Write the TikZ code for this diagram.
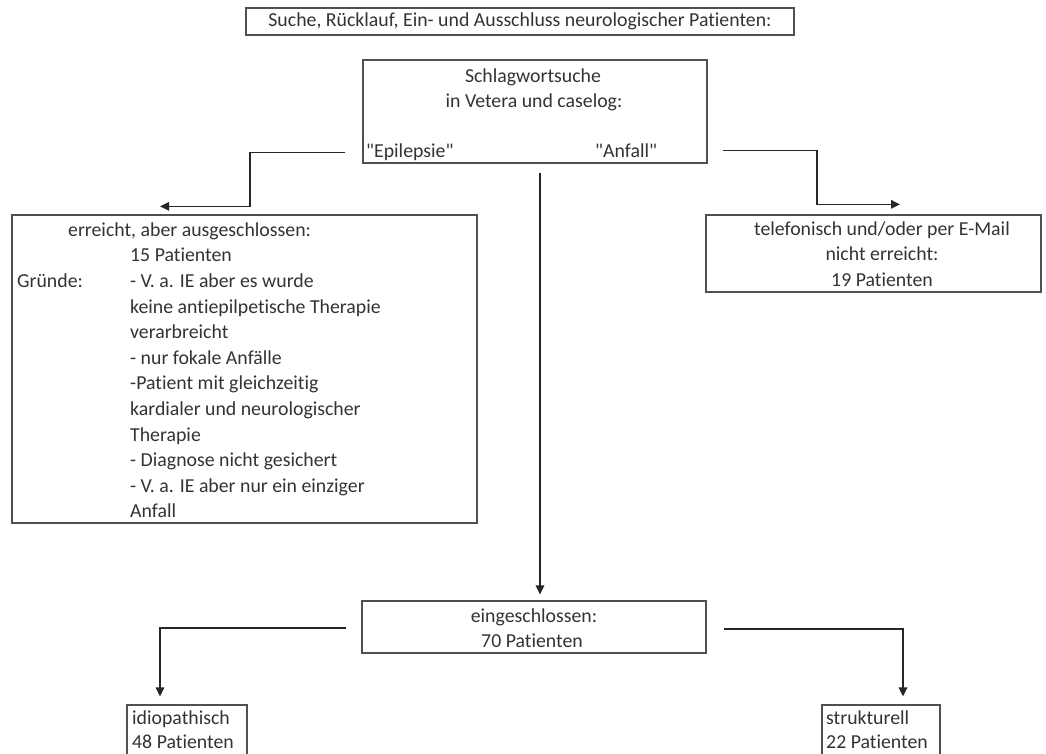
\documentclass[tikz,border=0pt]{standalone}
\usepackage{fontspec}
\setmainfont{Carlito}[Ligatures={TeXOff,CommonOff}]
\usetikzlibrary{arrows.meta}
\definecolor{boxline}{HTML}{505050}
\definecolor{ink}{HTML}{333333}
\definecolor{wire}{HTML}{262626}
\begin{document}
\begin{tikzpicture}[x=1pt,y=-1pt,
  box/.style={draw=boxline, line width=1.3pt, rectangle, inner sep=0pt},
  txt/.style={text=ink, inner sep=0pt, yshift=-4pt, font=\fontsize{19.8}{24}\selectfont},
  conn/.style={draw=wire, line width=1.6pt, -{Triangle[length=9pt,width=8.5pt]}},
]
% page frame
\clip (0,0) rectangle (1046,753);
\fill[white] (0,0) rectangle (1046,753);

% boxes
\node[box, minimum width=548pt, minimum height=27pt] (title) at (520,21.5) {};
\node[box, minimum width=344pt, minimum height=103pt] (search) at (535,111.5) {};
\node[box, minimum width=465pt, minimum height=308pt] (excl) at (244.5,369) {};
\node[box, minimum width=335pt, minimum height=77pt] (phone) at (873.5,253.5) {};
\node[box, minimum width=344pt, minimum height=52pt] (incl) at (534,627) {};
\node[box, minimum width=120pt, minimum height=75pt] (idio) at (187,742.5) {};
\node[box, minimum width=118pt, minimum height=75pt] (struk) at (881,742.5) {};

% texts
\node[txt, anchor=mid] (titletext) at (520,20) {Suche, Rücklauf, Ein- und Ausschluss neurologischer Patienten:};

\node[txt, anchor=mid] (s1) at (533,76) {Schlagwortsuche};
\node[txt, anchor=mid] (s2) at (534,101) {in Vetera und caselog:};
\node[txt, anchor=mid west] (s3) at (366,151) {"Epilepsie"};
\node[txt, anchor=mid west] (s4) at (595,151) {"Anfall"};

\node[txt, anchor=mid west] (e0) at (68,230) {erreicht, aber ausgeschlossen:};
\node[txt, anchor=mid west] (gr) at (17,281.2) {Gründe:};
\foreach \t [count=\i] in {15 Patienten, - V. a. IE aber es wurde,
  keine antiepilpetische Therapie, verarbreicht, - nur fokale Anfälle,
  -Patient mit gleichzeitig, kardialer und neurologischer, Therapie,
  - Diagnose nicht gesichert, - V. a. IE aber nur ein einziger, Anfall}
  \node[txt, anchor=mid west] (e\i) at (130,{230+25.6*\i}) {\t};

\node[txt, anchor=mid] (p1) at (882,229) {telefonisch und/oder per E-Mail};
\node[txt, anchor=mid] (p2) at (882,254.5) {nicht erreicht:};
\node[txt, anchor=mid] (p3) at (882,280) {19 Patienten};

\node[txt, anchor=mid] (i1) at (534,616) {eingeschlossen:};
\node[txt, anchor=mid] (i2) at (532,641.5) {70 Patienten};

\node[txt, anchor=mid west] (d1) at (132,718) {idiopathisch};
\node[txt, anchor=mid west] (d2) at (132,742) {48 Patienten};
\node[txt, anchor=mid west] (k1) at (826,718) {strukturell};
\node[txt, anchor=mid west] (k2) at (826,742) {22 Patienten};

% connectors
\draw[conn] ([shift={(-17pt,11pt)}]search.south west) -| ([shift={(5.5pt,8pt)}]excl.north)
  -- ([shift={(-84.5pt,8pt)}]excl.north);
\draw[conn] ([shift={(15pt,13pt)}]search.south east) -| ([shift={(-56.5pt,10pt)}]phone.north)
  -- ([shift={(26.5pt,10pt)}]phone.north);
\draw[conn] ([shift={(5pt,-9pt)}]search.south) -- ([shift={(6pt,6pt)}]incl.north);
\draw[conn] ([shift={(-15pt,-1pt)}]incl.west) -| ([shift={(-27pt,8pt)}]idio.north);
\draw[conn] ([shift={(17pt,-2pt)}]incl.east) -| ([shift={(22pt,8pt)}]struk.north);
\end{tikzpicture}
\end{document}
